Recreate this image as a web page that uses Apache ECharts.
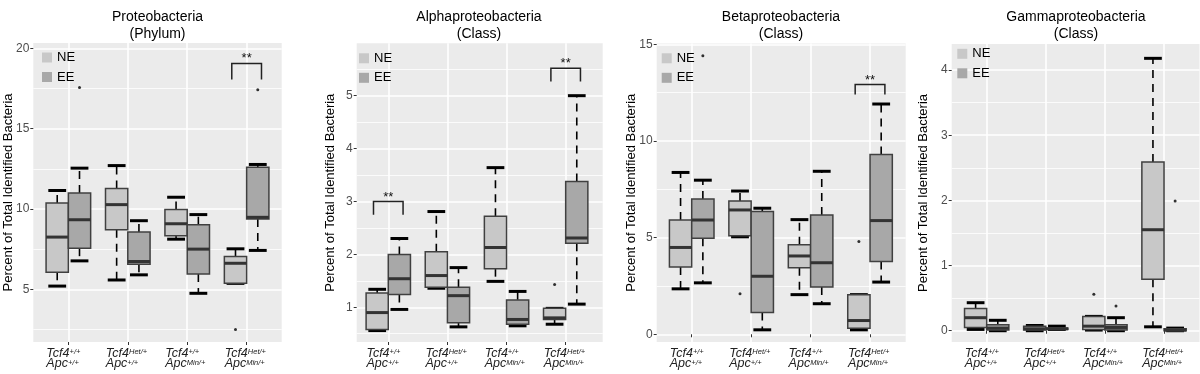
<!DOCTYPE html>
<html><head><meta charset="utf-8">
<script src="https://cdn.jsdelivr.net/npm/echarts@6/dist/echarts.min.js"></script>
<style>html,body{margin:0;padding:0;background:#fff}#c{width:1200px;height:374px}</style>
</head><body><div id="c"></div>
<script>
// ---------- data ----------
const tcfSup = ['+/+', 'Het/+', '+/+', 'Het/+'];
const apcSup = ['+/+', '+/+', 'Min/+', 'Min/+'];
const catPos = [1, 2, 3, 4];
const groupNames = ['NE', 'EE'];
const panelTitles = ['Proteobacteria\n(Phylum)', 'Alphaproteobacteria\n(Class)', 'Betaproteobacteria\n(Class)', 'Gammaproteobacteria\n(Class)'];
const yAxisTitle = 'Percent of Total Identified Bacteria';
const yTicks = [[5, 10, 15, 20], [1, 2, 3, 4, 5, 6], [0, 5, 10, 15], [0, 1, 2, 3, 4]];
const yMinor = [[2.5, 7.5, 12.5, 17.5], [0.5, 1.5, 2.5, 3.5, 4.5, 5.5], [2.5, 7.5, 12.5], [0.5, 1.5, 2.5, 3.5]];

// box stats per genotype: [low whisker, Q1, median, Q3, high whisker]
const proteoNE = [[5.2, 6.06, 8.25, 10.37, 11.15], [5.58, 8.71, 10.27, 11.27, 12.7], [8.12, 8.33, 9.08, 9.96, 10.73], [5.37, 5.37, 6.62, 7.04, 7.52]];
const proteoEE = [[6.77, 7.56, 9.33, 11.0, 12.54], [5.9, 6.56, 6.73, 8.56, 9.27], [4.75, 5.96, 7.5, 9.02, 9.65], [7.42, 9.38, 9.48, 12.6, 12.77]];
const proteoOut = [[1, 'EE', 17.56], [4, 'NE', 2.5], [4, 'EE', 17.42]];
const proteoSig = [[4, 19.06, 18.06]];

const alphaNE = [[0.56, 0.58, 0.90, 1.27, 1.34], [1.36, 1.38, 1.60, 2.05, 2.81], [1.49, 1.73, 2.13, 2.72, 3.64], [0.68, 0.77, 0.80, 0.98, 0.98]];
const alphaEE = [[0.96, 1.24, 1.54, 2.0, 2.30], [0.63, 0.71, 1.22, 1.38, 1.75], [0.65, 0.68, 0.77, 1.14, 1.30], [1.06, 2.21, 2.31, 3.38, 5.0]];
const alphaOut = [[4, 'NE', 1.43]];
const alphaSig = [[1, 3.0, 2.75], [4, 5.52, 5.27]];

const betaNE = [[2.35, 3.48, 4.49, 5.91, 8.37], [5.04, 5.10, 6.43, 6.89, 7.41], [2.05, 3.44, 4.05, 4.63, 5.93], [0.23, 0.31, 0.71, 2.05, 2.05]];
const betaEE = [[2.66, 4.97, 5.91, 7.0, 7.97], [0.23, 1.13, 3.0, 6.35, 6.52], [1.58, 2.45, 3.70, 6.17, 8.43], [2.70, 3.76, 5.88, 9.3, 11.91]];
const betaOut = [[1, 'EE', 14.4], [2, 'NE', 2.09], [4, 'NE', 4.8]];
const betaSig = [[4, 12.92, 12.4]];

const gammaNE = [[0.02, 0.05, 0.20, 0.34, 0.43], [0.0, 0.01, 0.03, 0.07, 0.08], [0.01, 0.02, 0.07, 0.22, 0.22], [0.06, 0.79, 1.55, 2.59, 4.18]];
const gammaEE = [[0.0, 0.01, 0.04, 0.09, 0.16], [0.02, 0.02, 0.03, 0.04, 0.07], [0.0, 0.01, 0.05, 0.09, 0.20], [0.0, 0.0, 0.01, 0.03, 0.04]];
const gammaOut = [[3, 'NE', 0.56], [3, 'EE', 0.38], [4, 'EE', 1.99]];
const gammaSig = [];

// ---------- layout / style ----------
const FONT = '"Liberation Sans", Arial, sans-serif';
const NE_FILL = '#c8c8c8', EE_FILL = '#a8a8a8';
const BOX_HALF = 0.1875, CAP_HALF = 0.15, DODGE = 0.1875, SIG_HALF = 0.25;
const BOTTOM = 342;
const layout = [
  {left: 33.3, right: 281.7, top: 43, xMin: 0.41, xMax: 4.59, yMin: 1.72, yMax: 20.33, nameGap: 18, legend: [42, 50], titleX: 157.5},
  {left: 356.7, right: 602.7, top: 43.3, xMin: 0.466, xMax: 4.626, yMin: 0.344, yMax: 5.99, nameGap: 20, legend: [359, 50.8], titleX: 479},
  {left: 656.7, right: 905.7, top: 43.5, xMin: 0.411, xMax: 4.60, yMin: -0.40, yMax: 15.04, nameGap: 19, legend: [661.7, 50.8], titleX: 781},
  {left: 951.7, right: 1199.5, top: 44, xMin: 0.408, xMax: 4.6, yMin: -0.173, yMax: 4.40, nameGap: 22, legend: [957.3, 46.3], titleX: 1076}
];
const panelData = [
  {NE: proteoNE, EE: proteoEE, out: proteoOut, sig: proteoSig},
  {NE: alphaNE, EE: alphaEE, out: alphaOut, sig: alphaSig},
  {NE: betaNE, EE: betaEE, out: betaOut, sig: betaSig},
  {NE: gammaNE, EE: gammaEE, out: gammaOut, sig: gammaSig}
];

function boxRenderer(offset, fill) {
  return function (params, api) {
    const c = api.value(0) + offset;
    const lo = api.coord([c, api.value(1)]);
    const q1 = api.coord([c, api.value(2)]);
    const md = api.coord([c, api.value(3)]);
    const q3 = api.coord([c, api.value(4)]);
    const hi = api.coord([c, api.value(5)]);
    const hw = api.size([BOX_HALF, 0])[0];
    const cw = api.size([CAP_HALF, 0])[0];
    const x = lo[0];
    const ch = [];
    const dash = {stroke: '#000', lineWidth: 1.6, lineDash: [8, 6]};
    const cap = {stroke: '#000', lineWidth: 3};
    ch.push({type: 'line', shape: {x1: x - cw, y1: hi[1], x2: x + cw, y2: hi[1]}, style: cap});
    ch.push({type: 'line', shape: {x1: x - cw, y1: lo[1], x2: x + cw, y2: lo[1]}, style: cap});
    if (q3[1] - hi[1] > 2) ch.push({type: 'line', shape: {x1: x, y1: q3[1], x2: x, y2: hi[1]}, style: dash});
    if (lo[1] - q1[1] > 2) ch.push({type: 'line', shape: {x1: x, y1: q1[1], x2: x, y2: lo[1]}, style: dash});
    ch.push({type: 'rect', shape: {x: x - hw, y: q3[1], width: 2 * hw, height: Math.max(q1[1] - q3[1], 0.5)},
      style: {fill: fill, stroke: '#404040', lineWidth: 1.5}});
    ch.push({type: 'line', shape: {x1: x - hw, y1: md[1], x2: x + hw, y2: md[1]}, style: {stroke: '#333', lineWidth: 3}});
    return {type: 'group', children: ch};
  };
}
function sigRenderer(params, api) {
  const c = api.value(0);
  const pL = api.coord([c - SIG_HALF, api.value(1)]);
  const pR = api.coord([c + SIG_HALF, api.value(1)]);
  const legY = api.coord([c, api.value(2)])[1];
  return {type: 'group', children: [
    {type: 'polyline', shape: {points: [[pL[0], legY], [pL[0], pL[1]], [pR[0], pR[1]], [pR[0], legY]]},
      style: {stroke: '#222', lineWidth: 1.5, fill: null}},
    {type: 'text', x: (pL[0] + pR[0]) / 2, y: pL[1] + 2,
      style: {text: '**', fill: '#111', font: '13px ' + FONT, align: 'center', verticalAlign: 'bottom'}}
  ]};
}

const grids = [], xAxes = [], yAxes = [], yMinorAxes = [], series = [], titles = [], legends = [];
layout.forEach((L, i) => {
  grids.push({left: L.left, top: L.top, width: L.right - L.left, height: BOTTOM - L.top,
    show: true, backgroundColor: '#ebebeb', borderWidth: 0, outerBoundsMode: 'none', containLabel: false});
  xAxes.push({
    gridIndex: i, type: 'value', min: L.xMin, max: L.xMax,
    axisLine: {show: false},
    axisTick: {show: true, length: 3, lineStyle: {color: '#333', width: 1}, customValues: catPos},
    axisLabel: {
      customValues: catPos.map(v => v - 0.37), align: 'left', margin: 6, hideOverlap: false,
      formatter: v => {
        const k = Math.round(v + 0.37) - 1;
        return '{m|Tcf4}{s|' + tcfSup[k] + '}\n{m|Apc}{s|' + apcSup[k] + '}';
      },
      rich: {
        m: {fontSize: 12.5, fontStyle: 'italic', color: '#222', fontFamily: FONT, lineHeight: 10.5},
        s: {fontSize: 7.5, fontStyle: 'italic', color: '#222', fontFamily: FONT, lineHeight: 7, verticalAlign: 'top'}
      }
    },
    splitLine: {show: true, lineStyle: {color: '#fff', width: 1.6}}
  });
  yAxes.push({
    gridIndex: i, type: 'value', min: L.yMin, max: L.yMax,
    name: yAxisTitle, nameLocation: 'middle', nameGap: L.nameGap, nameRotate: 90, nameMoveOverlap: false,
    nameTextStyle: {fontSize: 13, color: '#000', fontFamily: FONT},
    axisLine: {show: false},
    axisTick: {show: true, length: 3, lineStyle: {color: '#333', width: 1}, customValues: yTicks[i]},
    axisLabel: {customValues: yTicks[i], margin: 4, fontSize: 12, color: '#4d4d4d', fontFamily: FONT, hideOverlap: false},
    splitLine: {show: true, lineStyle: {color: '#fff', width: 1.6}}
  });
  yMinorAxes.push({
    gridIndex: i, type: 'value', min: L.yMin, max: L.yMax,
    axisLine: {show: false}, axisLabel: {show: false},
    axisTick: {show: false, customValues: yMinor[i]},
    splitLine: {show: true, lineStyle: {color: '#fff', width: 0.8}}
  });
  titles.push({text: panelTitles[i], left: L.titleX, top: 9, textAlign: 'center', padding: 0,
    textStyle: {fontSize: 14, fontWeight: 'normal', color: '#000', fontFamily: FONT, lineHeight: 17}});
  legends.push({data: groupNames, left: L.legend[0], top: L.legend[1], orient: 'vertical', padding: 0,
    itemWidth: 10, itemHeight: 10, itemGap: 4.5, icon: 'rect', selectedMode: false,
    textStyle: {fontSize: 13, color: '#000', fontFamily: FONT, lineHeight: 15}});

  const P = panelData[i];
  [['NE', -DODGE, NE_FILL], ['EE', DODGE, EE_FILL]].forEach(([g, off, fill]) => {
    series.push({
      type: 'custom', name: g, xAxisIndex: i, yAxisIndex: i, z: 3,
      itemStyle: {color: fill},
      renderItem: boxRenderer(off, fill),
      encode: {x: 0, y: [1, 2, 3, 4, 5]},
      data: catPos.map((c, k) => [c].concat(P[g][k]))
    });
  });
  series.push({
    type: 'scatter', name: 'outlier', xAxisIndex: i, yAxisIndex: i, z: 4,
    symbol: 'circle', symbolSize: 3, itemStyle: {color: '#000'}, silent: true,
    data: P.out.map(o => [o[0] + (o[1] === 'NE' ? -DODGE : DODGE), o[2]])
  });
  if (P.sig.length) series.push({
    type: 'custom', name: 'sig', xAxisIndex: i, yAxisIndex: i, z: 4, clip: false,
    renderItem: sigRenderer, encode: {x: 0, y: [1, 2]}, data: P.sig
  });
});

const chart = echarts.init(document.getElementById('c'), null, {renderer: 'canvas'});
chart.setOption({
  animation: false,
  backgroundColor: '#fff',
  title: titles,
  legend: legends,
  grid: grids,
  xAxis: xAxes,
  yAxis: yAxes.concat(yMinorAxes),
  series: series
});
</script></body></html>
